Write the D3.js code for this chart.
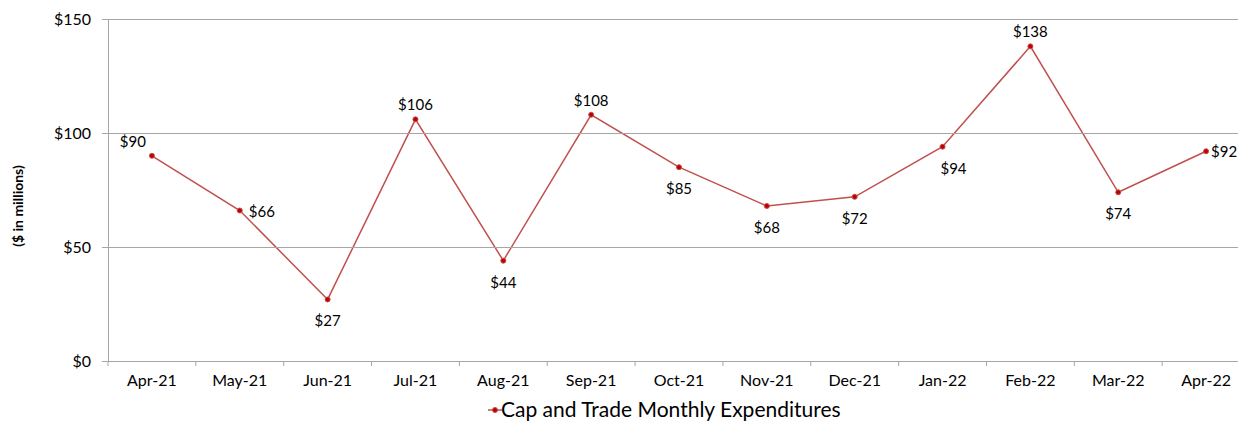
<html>

<head>
    <script src="https://d3js.org/d3.v7.min.js"></script>
    <style>
        body {
            margin: 0;
            background: #fff;
        }

        svg {
            font-family: Lato, "Open Sans", sans-serif;
            overflow: hidden;
        }

        .gridlines line {
            stroke: #a6a6a6;
        }

        .gridlines .domain {
            stroke: none;
        }

        .axis .domain,
        .axis line {
            stroke: #a6a6a6;
        }
    </style>
</head>

<body>
    <svg height="422" width="1238"></svg>

    <script>
        const months = ["Apr-21", "May-21", "Jun-21", "Jul-21", "Aug-21", "Sep-21", "Oct-21",
            "Nov-21", "Dec-21", "Jan-22", "Feb-22", "Mar-22", "Apr-22"];
        const expenditures = [90, 66, 27, 106, 44, 108, 85, 68, 72, 94, 138, 74, 92];
        const yTicks = [0, 50, 100, 150];
        const seriesName = "Cap and Trade Monthly Expenditures";
        const yTitle = "($ in millions)";

        // where each data label sits relative to its point
        const labelSide = ["aboveLeft", "right", "below", "above", "below", "above", "below",
            "below", "below", "belowRight", "above", "below", "rightEdge"];

        const svg = d3.select("svg");
        const margins = { top: 19, left: 108 };
        const chartWidth = 1142;
        const chartHeight = 342;
        const red = "#c0504d";

        let chartArea = svg.append("g")
            .attr("transform", `translate(${margins.left},${margins.top})`);

        const xScale = d3.scaleBand().domain(months).range([0, chartWidth]);
        const yScale = d3.scaleLinear().domain([0, 150]).range([chartHeight, 0]);

        let leftGridLines = d3.axisLeft(yScale).tickValues(yTicks).tickFormat("").tickSize(-chartWidth - 6);
        svg.append("g")
            .attr("class", "gridlines")
            .attr("transform", `translate(${margins.left - 6},${margins.top})`)
            .call(leftGridLines);

        let leftAxis = d3.axisLeft(yScale).tickValues(yTicks).tickFormat(d => "$" + d).tickSize(0).tickPadding(17);
        let yAxisG = svg.append("g")
            .attr("class", "axis")
            .attr("transform", `translate(${margins.left},${margins.top})`)
            .call(leftAxis);
        yAxisG.selectAll("text").attr("font-size", 16).attr("font-family", "Lato").attr("fill", "#000");

        let bottomAxis = d3.axisBottom(xScale).tickSize(0).tickPadding(14);
        let xAxisG = svg.append("g")
            .attr("class", "axis")
            .attr("transform", `translate(${margins.left},${margins.top + chartHeight})`)
            .call(bottomAxis);
        xAxisG.selectAll("text").attr("font-size", 16).attr("font-family", "Lato").attr("fill", "#000");

        // tick marks at the band edges
        xAxisG.selectAll(".edge")
            .data(d3.range(months.length + 1))
            .join("line")
            .attr("class", "edge")
            .attr("x1", i => i * xScale.step())
            .attr("x2", i => i * xScale.step())
            .attr("y1", 0)
            .attr("y2", 5)
            .attr("stroke", "#a6a6a6");

        const xPos = (d, i) => xScale(months[i]) + xScale.bandwidth() / 2;

        const line = d3.line()
            .x(xPos)
            .y(d => yScale(d));

        chartArea.append("path")
            .datum(expenditures)
            .attr("d", line)
            .attr("fill", "none")
            .attr("stroke", red)
            .attr("stroke-width", 1.5);

        chartArea.selectAll(".marker")
            .data(expenditures)
            .join("circle")
            .attr("class", "marker")
            .attr("cx", xPos)
            .attr("cy", d => yScale(d))
            .attr("r", 2.5)
            .attr("fill", "#c00000")
            .attr("stroke", red);

        const offsets = {
            above: [0, -9, "middle"],
            aboveLeft: [-19, -9, "middle"],
            below: [0, 27, "middle"],
            belowRight: [11, 27, "middle"],
            right: [9, 6, "start"],
            rightEdge: [5, 6, "start"]
        };

        chartArea.selectAll(".label")
            .data(expenditures)
            .join("text")
            .attr("class", "label")
            .attr("x", (d, i) => xPos(d, i) + offsets[labelSide[i]][0])
            .attr("y", d => yScale(d))
            .attr("dy", (d, i) => offsets[labelSide[i]][1])
            .attr("text-anchor", (d, i) => offsets[labelSide[i]][2])
            .attr("font-size", 15)
            .text(d => "$" + d);

        // y axis title
        svg.append("text")
            .attr("transform", "translate(23,206) rotate(-90)")
            .attr("text-anchor", "middle")
            .attr("font-size", 14)
            .attr("font-weight", "bold")
            .text(yTitle);

        // legend
        let legend = svg.append("g").attr("transform", "translate(488,410)");
        legend.append("line")
            .attr("x1", 0).attr("x2", 14)
            .attr("y1", 0).attr("y2", 0)
            .attr("stroke", red).attr("stroke-width", 1.5);
        legend.append("circle")
            .attr("cx", 7).attr("cy", 0).attr("r", 2.5)
            .attr("fill", "#c00000").attr("stroke", red);
        legend.append("text")
            .attr("x", 13)
            .attr("y", 7)
            .attr("font-size", 21)
            .text(seriesName);
    </script>
</body>

</html>
